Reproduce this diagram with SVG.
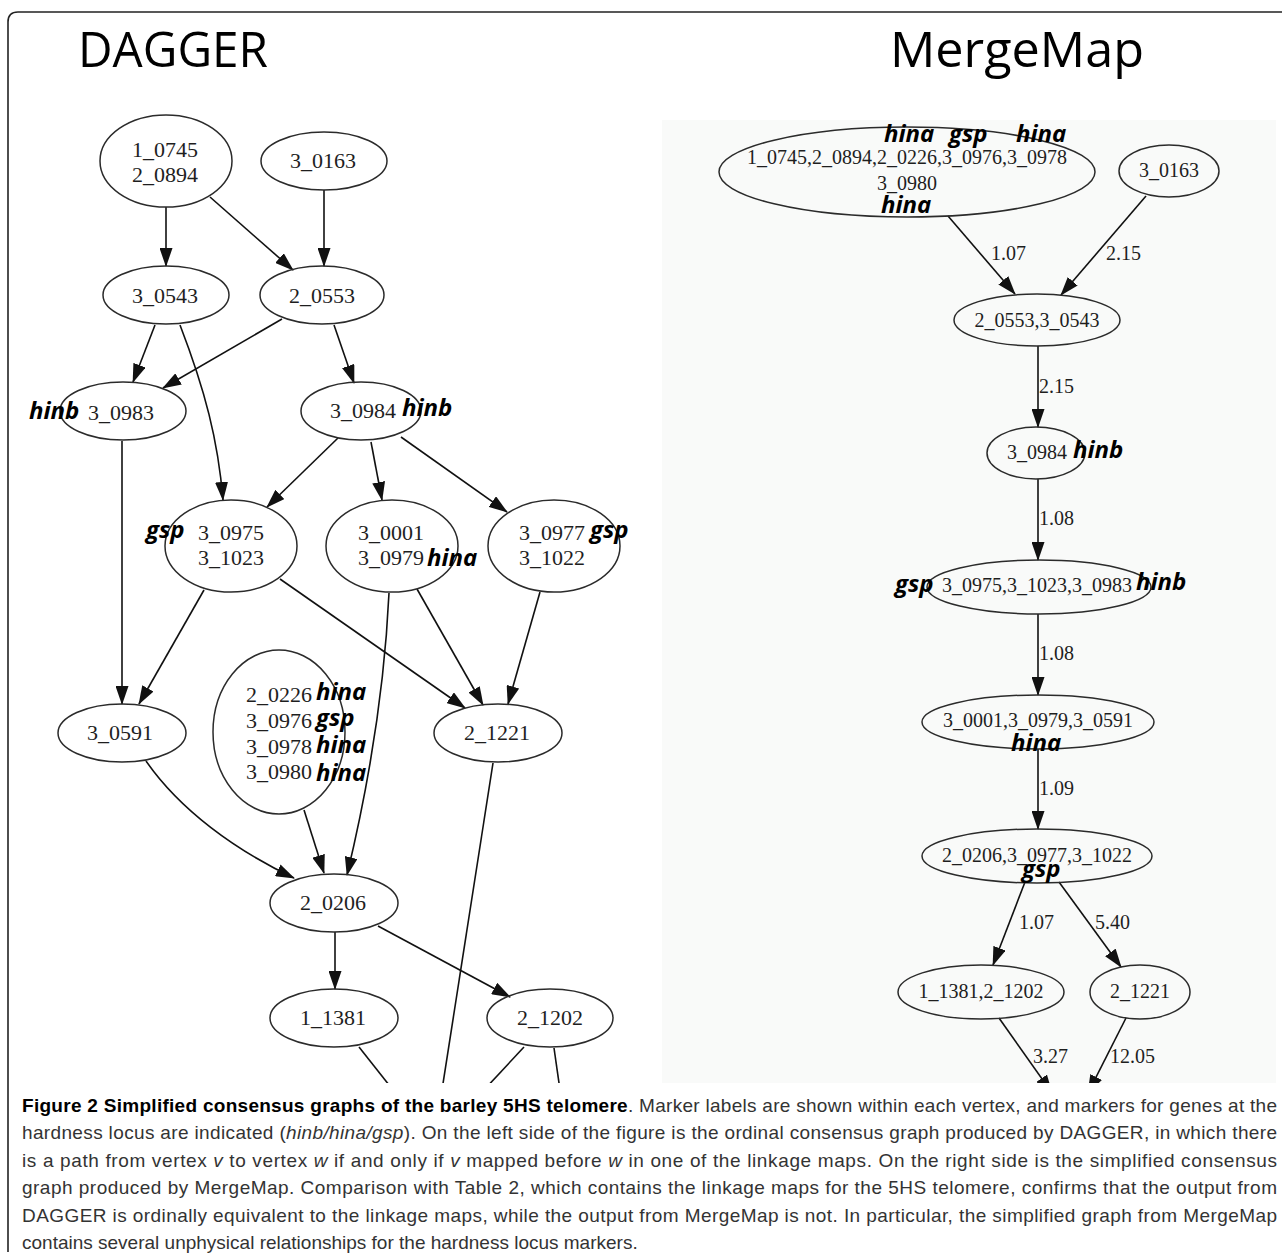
<svg xmlns="http://www.w3.org/2000/svg" width="1282" height="1255" viewBox="0 0 1282 1255">
<style>
.node ellipse{fill:none;stroke:#2b2b2b;stroke-width:1.5}
.t{font-family:"Liberation Serif","Times New Roman",serif;font-size:20px;fill:#1e1e1e}
.m{font-family:"Open Sans","Liberation Sans",sans-serif;font-style:italic;font-weight:700;font-size:24px;fill:#000}
.e{fill:none;stroke:#111;stroke-width:1.6}
.a{marker-end:url(#arr)}
.ttl{font-family:"Open Sans","Liberation Sans",sans-serif;font-size:50px;fill:#000}
.cap{font-family:"Liberation Sans","Open Sans",sans-serif;font-size:19px;fill:#333}
</style>
<defs>
<marker id="arr" markerUnits="userSpaceOnUse" markerWidth="19" markerHeight="13" refX="18" refY="6.5" orient="auto">
<path d="M0,0 L19,6.5 L0,13 Z" fill="#111"/>
</marker>
<clipPath id="cl"><rect x="0" y="90" width="660" height="993"/></clipPath>
<clipPath id="cr"><rect x="662" y="120" width="614" height="963"/></clipPath>
</defs>
<rect width="1282" height="1255" fill="#fff"/>
<path d="M8,1252 L8,22 Q8,12 18,12 L1282,12" fill="none" stroke="#222" stroke-width="1.6"/>
<text class="ttl" x="78" y="67" textLength="190" lengthAdjust="spacingAndGlyphs">DAGGER</text>
<text class="ttl" x="890" y="67" textLength="254" lengthAdjust="spacingAndGlyphs">MergeMap</text>

<g id="dagger" clip-path="url(#cl)">
<g id="dagger-connectors">
<path class="e a" d="M166,207 L166,266"/>
<path class="e a" d="M210,197 L293,270"/>
<path class="e a" d="M324,190 L324,266"/>
<path class="e a" d="M155,325 L133,382"/>
<path class="e a" d="M180,325 C205,390 218,440 223,500"/>
<path class="e a" d="M282,319 L163,388"/>
<path class="e a" d="M334,325 L354,383"/>
<path class="e a" d="M338,438 L267,507"/>
<path class="e a" d="M371,442 L382,500"/>
<path class="e a" d="M401,437 L507,512"/>
<path class="e a" d="M122,441 L122,704"/>
<path class="e a" d="M204,590 L139,704"/>
<path class="e a" d="M280,579 L465,708"/>
<path class="e a" d="M417,589 L483,705"/>
<path class="e a" d="M540,592 L508,704"/>
<path class="e a" d="M389,593 C384,700 365,800 347,875"/>
<path class="e a" d="M304,810 L324,873"/>
<path class="e a" d="M146,761 C180,810 235,850 294,878"/>
<path class="e" d="M493,763 L442,1090"/>
<path class="e a" d="M335,932 L335,989"/>
<path class="e a" d="M378,926 L510,997"/>
<path class="e" d="M359,1047 L393,1090"/>
<path class="e" d="M524,1047 L484,1090"/>
<path class="e" d="M554,1048 L560,1090"/>
</g>
<g id="d-1_0745" class="node"><ellipse cx="166" cy="161" rx="66" ry="46"/><text class="t" x="165" y="157" text-anchor="middle" textLength="66" lengthAdjust="spacingAndGlyphs">1_0745</text><text class="t" x="165" y="182" text-anchor="middle" textLength="66" lengthAdjust="spacingAndGlyphs">2_0894</text></g>
<g id="d-3_0163" class="node"><ellipse cx="324" cy="161" rx="63" ry="29"/><text class="t" x="323" y="168" text-anchor="middle" textLength="66" lengthAdjust="spacingAndGlyphs">3_0163</text></g>
<g id="d-3_0543" class="node"><ellipse cx="166" cy="295" rx="63" ry="29"/><text class="t" x="165" y="303" text-anchor="middle" textLength="66" lengthAdjust="spacingAndGlyphs">3_0543</text></g>
<g id="d-2_0553" class="node"><ellipse cx="322" cy="295" rx="62" ry="29"/><text class="t" x="322" y="303" text-anchor="middle" textLength="66" lengthAdjust="spacingAndGlyphs">2_0553</text></g>
<g id="d-3_0983" class="node"><ellipse cx="123" cy="411" rx="63" ry="29"/><text class="t" x="121" y="420" text-anchor="middle" textLength="66" lengthAdjust="spacingAndGlyphs">3_0983</text><text class="m" x="29" y="419">hinb</text></g>
<g id="d-3_0984" class="node"><ellipse cx="361" cy="411" rx="60" ry="29"/><text class="t" x="363" y="418" text-anchor="middle" textLength="66" lengthAdjust="spacingAndGlyphs">3_0984</text><text class="m" x="402" y="416">hinb</text></g>
<g id="d-3_0975" class="node"><ellipse cx="231" cy="546" rx="66" ry="46"/><text class="t" x="231" y="540" text-anchor="middle" textLength="66" lengthAdjust="spacingAndGlyphs">3_0975</text><text class="t" x="231" y="565" text-anchor="middle" textLength="66" lengthAdjust="spacingAndGlyphs">3_1023</text><text class="m" x="146" y="538">gsp</text></g>
<g id="d-3_0001" class="node"><ellipse cx="392" cy="546" rx="66" ry="46"/><text class="t" x="391" y="540" text-anchor="middle" textLength="66" lengthAdjust="spacingAndGlyphs">3_0001</text><text class="t" x="391" y="565" text-anchor="middle" textLength="66" lengthAdjust="spacingAndGlyphs">3_0979</text><text class="m" x="427" y="566">hina</text></g>
<g id="d-3_0977" class="node"><ellipse cx="554" cy="546" rx="66" ry="46"/><text class="t" x="552" y="540" text-anchor="middle" textLength="66" lengthAdjust="spacingAndGlyphs">3_0977</text><text class="t" x="552" y="565" text-anchor="middle" textLength="66" lengthAdjust="spacingAndGlyphs">3_1022</text><text class="m" x="590" y="538">gsp</text></g>
<g id="d-3_0591" class="node"><ellipse cx="122" cy="733" rx="64" ry="29"/><text class="t" x="120" y="740" text-anchor="middle" textLength="66" lengthAdjust="spacingAndGlyphs">3_0591</text></g>
<g id="d-2_0226" class="node"><ellipse cx="279" cy="732" rx="66" ry="82"/>
<text class="t" x="246" y="702" textLength="66" lengthAdjust="spacingAndGlyphs">2_0226</text><text class="m" x="316" y="700">hina</text>
<text class="t" x="246" y="728" textLength="66" lengthAdjust="spacingAndGlyphs">3_0976</text><text class="m" x="316" y="726">gsp</text>
<text class="t" x="246" y="754" textLength="66" lengthAdjust="spacingAndGlyphs">3_0978</text><text class="m" x="316" y="753">hina</text>
<text class="t" x="246" y="779" textLength="66" lengthAdjust="spacingAndGlyphs">3_0980</text><text class="m" x="316" y="781">hina</text></g>
<g id="d-2_1221" class="node"><ellipse cx="498" cy="733" rx="64" ry="29"/><text class="t" x="497" y="740" text-anchor="middle" textLength="66" lengthAdjust="spacingAndGlyphs">2_1221</text></g>
<g id="d-2_0206" class="node"><ellipse cx="334" cy="903" rx="64" ry="29"/><text class="t" x="333" y="910" text-anchor="middle" textLength="66" lengthAdjust="spacingAndGlyphs">2_0206</text></g>
<g id="d-1_1381" class="node"><ellipse cx="334" cy="1018" rx="64" ry="29"/><text class="t" x="333" y="1025" text-anchor="middle" textLength="66" lengthAdjust="spacingAndGlyphs">1_1381</text></g>
<g id="d-2_1202" class="node"><ellipse cx="550" cy="1018" rx="63" ry="29"/><text class="t" x="550" y="1025" text-anchor="middle" textLength="66" lengthAdjust="spacingAndGlyphs">2_1202</text></g>
</g>

<g id="mergemap" clip-path="url(#cr)">
<rect x="662" y="120" width="614" height="963" fill="#f9faf9"/>
<g id="mergemap-connectors">
<path class="e a" d="M948,216 L1015,294"/>
<path class="e a" d="M1146,196 L1061,295"/>
<path class="e a" d="M1038,346 L1038,427"/>
<path class="e a" d="M1038,479 L1038,560"/>
<path class="e a" d="M1038,614 L1038,695"/>
<path class="e a" d="M1038,749 L1038,829"/>
<path class="e a" d="M1025,882 L993,965"/>
<path class="e a" d="M1059,882 L1121,967"/>
<path class="e a" d="M999,1018 L1052,1093"/>
<path class="e a" d="M1126,1018 L1088,1093"/>
<text class="t" x="991" y="260">1.07</text>
<text class="t" x="1106" y="260">2.15</text>
<text class="t" x="1039" y="393">2.15</text>
<text class="t" x="1039" y="525">1.08</text>
<text class="t" x="1039" y="660">1.08</text>
<text class="t" x="1039" y="795">1.09</text>
<text class="t" x="1019" y="929">1.07</text>
<text class="t" x="1095" y="929">5.40</text>
<text class="t" x="1033" y="1063">3.27</text>
<text class="t" x="1110" y="1063">12.05</text>
</g>
<g id="m-top" class="node"><ellipse cx="907" cy="172" rx="188" ry="45"/>
<text class="t" x="907" y="164" text-anchor="middle">1_0745,2_0894,2_0226,3_0976,3_0978</text>
<text class="t" x="907" y="190" text-anchor="middle">3_0980</text>
<text class="m" x="884" y="142">hina</text><text class="m" x="949" y="142">gsp</text><text class="m" x="1016" y="142">hina</text>
<text class="m" x="881" y="213">hina</text></g>
<g id="m-3_0163" class="node"><ellipse cx="1169" cy="171" rx="50" ry="26"/><text class="t" x="1169" y="177" text-anchor="middle">3_0163</text></g>
<g id="m-2_0553" class="node"><ellipse cx="1037" cy="320" rx="83" ry="26"/><text class="t" x="1037" y="327" text-anchor="middle">2_0553,3_0543</text></g>
<g id="m-3_0984" class="node"><ellipse cx="1036" cy="453" rx="49" ry="26"/><text class="t" x="1037" y="459" text-anchor="middle">3_0984</text><text class="m" x="1073" y="458">hinb</text></g>
<g id="m-3_0975" class="node"><ellipse cx="1039" cy="587" rx="112" ry="27"/><text class="t" x="1037" y="592" text-anchor="middle">3_0975,3_1023,3_0983</text><text class="m" x="895" y="592">gsp</text><text class="m" x="1136" y="590">hinb</text></g>
<g id="m-3_0001" class="node"><ellipse cx="1038" cy="722" rx="116" ry="27"/><text class="t" x="1038" y="727" text-anchor="middle">3_0001,3_0979,3_0591</text><text class="m" x="1011" y="751">hina</text></g>
<g id="m-2_0206" class="node"><ellipse cx="1037" cy="856" rx="115" ry="27"/><text class="t" x="1037" y="862" text-anchor="middle">2_0206,3_0977,3_1022</text><text class="m" x="1022" y="877">gsp</text></g>
<g id="m-1_1381" class="node"><ellipse cx="981" cy="992" rx="83" ry="27"/><text class="t" x="981" y="998" text-anchor="middle">1_1381,2_1202</text></g>
<g id="m-2_1221" class="node"><ellipse cx="1140" cy="992" rx="50" ry="27"/><text class="t" x="1140" y="998" text-anchor="middle">2_1221</text></g>
</g>

<g id="caption">
<text class="cap" x="22" y="1112" textLength="1255"><tspan font-weight="700" fill="#000">Figure 2 Simplified consensus graphs of the barley 5HS telomere</tspan>. Marker labels are shown within each vertex, and markers for genes at the</text>
<text class="cap" x="22" y="1139" textLength="1255">hardness locus are indicated (<tspan font-style="italic">hinb/hina/gsp</tspan>). On the left side of the figure is the ordinal consensus graph produced by DAGGER, in which there</text>
<text class="cap" x="22" y="1167" textLength="1255">is a path from vertex <tspan font-style="italic">v</tspan> to vertex <tspan font-style="italic">w</tspan> if and only if <tspan font-style="italic">v</tspan> mapped before <tspan font-style="italic">w</tspan> in one of the linkage maps. On the right side is the simplified consensus</text>
<text class="cap" x="22" y="1194" textLength="1255">graph produced by MergeMap. Comparison with Table 2, which contains the linkage maps for the 5HS telomere, confirms that the output from</text>
<text class="cap" x="22" y="1222" textLength="1255">DAGGER is ordinally equivalent to the linkage maps, while the output from MergeMap is not. In particular, the simplified graph from MergeMap</text>
<text class="cap" x="22" y="1249">contains several unphysical relationships for the hardness locus markers.</text>
</g>
</svg>
